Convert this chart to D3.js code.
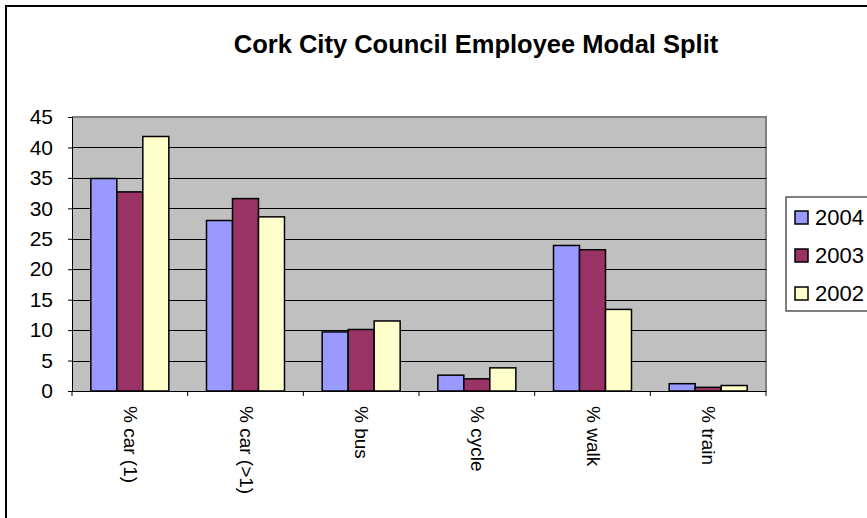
<!DOCTYPE html>
<html>
<head>
<meta charset="utf-8">
<script src="https://cdn.jsdelivr.net/npm/d3@7"></script>
<style>
  body { margin: 0; background: #fff; }
  text { font-family: "Liberation Sans", Arial, sans-serif; fill: #000; }
</style>
</head>
<body>
<div id="chart"></div>
<script>
// data
var categories = ["% car (1)", "% car (>1)", "% bus", "% cycle", "% walk", "% train"];
var years = ["2004", "2003", "2002"];
var v2004 = [34.9, 28.0, 9.7, 2.6, 23.9, 1.2];
var v2003 = [32.7, 31.6, 10.1, 2.0, 23.2, 0.6];
var v2002 = [41.8, 28.6, 11.5, 3.8, 13.4, 0.9];
var yTicks = [0, 5, 10, 15, 20, 25, 30, 35, 40, 45];
var colors = ["#9999FF", "#993366", "#FFFFCC"];

var svgWidth = 867;
var svgHeight = 518;

var plot = { left: 72, right: 766, top: 117, bottom: 391 };

var svg = d3.select("#chart")
  .append("svg")
  .attr("width", svgWidth)
  .attr("height", svgHeight);

// outer chart border (runs off the right and bottom edges)
svg.append("rect")
  .attr("x", 6).attr("y", 6)
  .attr("width", 950).attr("height", 600)
  .attr("fill", "#fff")
  .attr("stroke", "#000")
  .attr("stroke-width", 2);

svg.append("text")
  .attr("x", 476)
  .attr("y", 53)
  .attr("text-anchor", "middle")
  .attr("font-size", "25.5px")
  .attr("font-weight", "bold")
  .text("Cork City Council Employee Modal Split");

var x = d3.scaleBand()
  .domain(categories)
  .range([plot.left, plot.right]);

var xs = d3.scaleBand()
  .domain(years)
  .range([0, x.bandwidth()])
  .paddingOuter(0.725);

var y = d3.scaleLinear()
  .domain([0, 45])
  .range([plot.bottom, plot.top]);

// plot area
svg.append("rect")
  .attr("x", plot.left)
  .attr("y", plot.top)
  .attr("width", plot.right - plot.left)
  .attr("height", plot.bottom - plot.top)
  .attr("fill", "#C0C0C0");

svg.append("path")
  .attr("d", `M${plot.left},${plot.top}H${plot.right}V${plot.bottom}`)
  .attr("fill", "none")
  .attr("stroke", "#808080")
  .attr("stroke-width", 2);

// gridlines
svg.append("g")
  .selectAll("line")
  .data(yTicks.filter(d => d > 0 && d < 45))
  .enter()
  .append("line")
  .attr("x1", plot.left)
  .attr("x2", plot.right)
  .attr("y1", d => Math.round(y(d)) + 0.5)
  .attr("y2", d => Math.round(y(d)) + 0.5)
  .attr("stroke", "#000")
  .attr("stroke-width", 1);

// bars
var series = [v2004, v2003, v2002];
var rows = [];
categories.forEach((c, i) => {
  years.forEach((yr, j) => {
    rows.push({ cat: c, year: yr, value: series[j][i], color: colors[j] });
  });
});

svg.append("g")
  .selectAll("rect")
  .data(rows)
  .enter()
  .append("rect")
  .attr("x", d => x(d.cat) + xs(d.year))
  .attr("y", d => y(d.value))
  .attr("width", xs.bandwidth())
  .attr("height", d => plot.bottom - y(d.value))
  .attr("fill", d => d.color)
  .attr("stroke", "#000")
  .attr("stroke-width", 1.5);

// y axis
var yAxis = svg.append("g")
  .attr("transform", `translate(${plot.left},0)`)
  .call(d3.axisLeft(y).tickValues(yTicks).tickSize(4).tickPadding(15));
yAxis.select(".domain").attr("stroke", "#000");
yAxis.selectAll("text")
  .attr("font-size", "21px")
  .attr("font-family", "Liberation Sans, Arial, sans-serif");

// x axis line and ticks between categories
var xAxis = svg.append("g")
  .attr("transform", `translate(0,${plot.bottom})`)
  .call(d3.axisBottom(x).tickSize(0).tickFormat(""));
xAxis.select(".domain").attr("stroke", "#000");

svg.append("g")
  .selectAll("line")
  .data(categories.concat(["end"]))
  .enter()
  .append("line")
  .attr("x1", (d, i) => plot.left + i * x.step())
  .attr("x2", (d, i) => plot.left + i * x.step())
  .attr("y1", plot.bottom)
  .attr("y2", plot.bottom + 5)
  .attr("stroke", "#000");

// rotated category labels
svg.append("g")
  .selectAll("text")
  .data(categories)
  .enter()
  .append("text")
  .attr("transform", d => `translate(${x(d) + x.bandwidth() / 2 - 6},406) rotate(90)`)
  .attr("font-size", "19px")
  .attr("text-anchor", "start")
  .text(d => d);

// legend
var legend = svg.append("g");
legend.append("rect")
  .attr("x", 786).attr("y", 197)
  .attr("width", 120).attr("height", 114)
  .attr("fill", "#fff")
  .attr("stroke", "#555")
  .attr("stroke-width", 1.5);

var items = legend.selectAll("g.item")
  .data(years)
  .enter()
  .append("g")
  .attr("class", "item")
  .attr("transform", (d, i) => `translate(0,${i * 38})`);

items.append("rect")
  .attr("x", 795).attr("y", 211)
  .attr("width", 13).attr("height", 13)
  .attr("fill", (d, i) => colors[i])
  .attr("stroke", "#000")
  .attr("stroke-width", 1.5);

items.append("text")
  .attr("x", 815)
  .attr("y", 225)
  .attr("font-size", "22px")
  .text(d => d);
</script>
</body>
</html>
